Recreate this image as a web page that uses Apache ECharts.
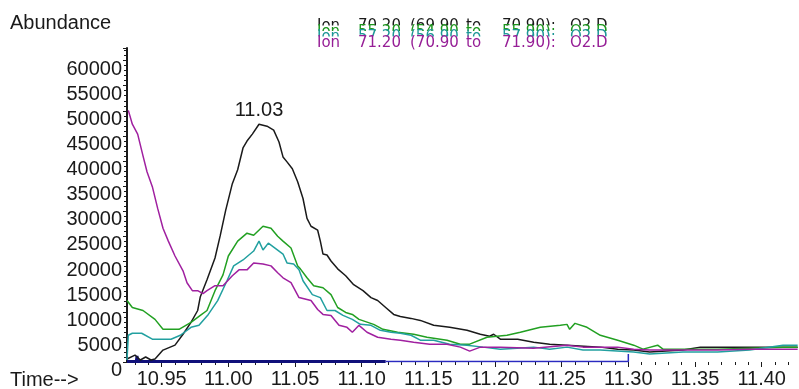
<!DOCTYPE html>
<html>
<head>
<meta charset="utf-8">
<script src="https://cdn.jsdelivr.net/npm/echarts@6/dist/echarts.min.js"></script>
<style>
  html, body { margin: 0; padding: 0; background: #fff; }
  #chart { width: 799px; height: 389px; }
</style>
</head>
<body>
<div id="chart"></div>
<script>
// retention time (min) / abundance pairs
var ion70 = [
  [10.924, 600], [10.930, 1380], [10.934, 400], [10.938, 990], [10.942, 400], [10.945, 600],
  [10.951, 2370], [10.960, 3350], [10.966, 5520], [10.972, 7890], [10.977, 10250], [10.979, 13000],
  [10.984, 16370], [10.990, 20700], [10.994, 25240], [10.998, 30170], [11.003, 35500], [11.007, 38260],
  [11.011, 42600], [11.014, 43980], [11.018, 45360], [11.023, 47330], [11.029, 46930], [11.034, 46150],
  [11.038, 43780], [11.041, 40820], [11.044, 39830], [11.048, 38450], [11.052, 35890], [11.056, 32540],
  [11.059, 28590], [11.062, 27020], [11.067, 26230], [11.069, 24060], [11.071, 21490], [11.074, 21300],
  [11.077, 20110], [11.082, 18540], [11.088, 17160], [11.094, 15380], [11.101, 14200], [11.107, 12820],
  [11.112, 12230], [11.118, 10850], [11.124, 9470], [11.129, 9070], [11.137, 8680], [11.144, 8280],
  [11.154, 7300], [11.166, 6900], [11.179, 6310], [11.189, 5520], [11.196, 5130], [11.199, 5520],
  [11.204, 4540], [11.217, 4540], [11.229, 3940], [11.241, 3550], [11.254, 3350], [11.279, 2960],
  [11.292, 2560], [11.304, 2370], [11.316, 1970], [11.341, 2370], [11.354, 2960], [11.379, 2960],
  [11.404, 2960], [11.427, 2960]
];
var ion55 = [
  [10.924, 12230], [10.928, 10850], [10.936, 10250], [10.945, 8480], [10.951, 6510], [10.963, 6510],
  [10.972, 7890], [10.979, 9270], [10.984, 10250], [10.990, 14200], [10.996, 17350], [11.000, 21100],
  [11.007, 24060], [11.014, 25640], [11.019, 25240], [11.026, 27020], [11.032, 26620], [11.037, 25040],
  [11.041, 24060], [11.047, 22680], [11.052, 19130], [11.054, 18540], [11.059, 16760], [11.064, 15180],
  [11.071, 14790], [11.077, 13410], [11.082, 10850], [11.088, 9860], [11.093, 9470], [11.098, 8480],
  [11.109, 7490], [11.116, 6510], [11.127, 5920], [11.139, 5520], [11.149, 4930], [11.164, 4340],
  [11.174, 3550], [11.181, 3550], [11.194, 4930], [11.209, 5320], [11.219, 5920], [11.234, 6900],
  [11.249, 7300], [11.254, 7490], [11.256, 6510], [11.260, 7690], [11.269, 6900], [11.279, 5320],
  [11.292, 4340], [11.304, 3350], [11.311, 2560], [11.322, 3350], [11.326, 2560], [11.341, 2560],
  [11.367, 2560], [11.391, 2760], [11.416, 2960], [11.427, 2960]
];
var ion57 = [
  [10.924, 400], [10.925, 5320], [10.928, 5720], [10.935, 5720], [10.943, 4540], [10.957, 4540],
  [10.964, 5320], [10.972, 6900], [10.978, 7300], [10.985, 9470], [10.992, 12230], [10.999, 16170],
  [11.004, 19130], [11.011, 20310], [11.019, 22090], [11.023, 24060], [11.026, 22280], [11.030, 23660],
  [11.035, 22680], [11.041, 21490], [11.044, 19720], [11.049, 19520], [11.053, 18340], [11.056, 16170],
  [11.063, 13410], [11.069, 12820], [11.074, 10250], [11.080, 10250], [11.086, 9270], [11.093, 8480],
  [11.099, 7490], [11.107, 7300], [11.114, 6310], [11.122, 5920], [11.129, 5720], [11.137, 5320],
  [11.144, 4340], [11.154, 4340], [11.166, 3550], [11.179, 3350], [11.191, 2960], [11.204, 2560],
  [11.229, 2960], [11.241, 2560], [11.254, 2960], [11.266, 2370], [11.279, 2370], [11.304, 1970],
  [11.316, 1580], [11.341, 1970], [11.367, 1970], [11.391, 2370], [11.416, 3350], [11.427, 3350]
];
var ion71 = [
  [10.925, 50090], [10.928, 47330], [10.932, 45360], [10.936, 41020], [10.939, 37860], [10.943, 34900],
  [10.947, 30570], [10.951, 26620], [10.955, 24060], [10.960, 21100], [10.966, 18140], [10.969, 15780],
  [10.973, 14200], [10.977, 14200], [10.981, 13610], [10.984, 14200], [10.990, 15180], [10.996, 15180],
  [11.003, 17160], [11.008, 18340], [11.014, 18340], [11.019, 19720], [11.026, 19520], [11.032, 19130],
  [11.037, 17750], [11.041, 16760], [11.047, 15780], [11.053, 12820], [11.062, 12230], [11.067, 10450],
  [11.071, 9470], [11.077, 9270], [11.083, 7300], [11.089, 6900], [11.093, 5920], [11.098, 7300],
  [11.104, 5920], [11.112, 4930], [11.122, 4540], [11.129, 4340], [11.139, 3940], [11.151, 3550],
  [11.164, 3550], [11.174, 2960], [11.181, 2170], [11.189, 2960], [11.204, 2960], [11.229, 2760],
  [11.254, 3350], [11.266, 2960], [11.292, 2960], [11.304, 2560], [11.316, 2370], [11.341, 2370],
  [11.367, 2370], [11.391, 2560], [11.427, 2560]
];
// integration baseline
var baseThick = [[10.924, 100], [10.931, 100], [10.9315, 1200], [10.932, 100], [11.118, 100]];
var baseThin = [[11.118, 100], [11.300, 100], [11.300, 1600]];

var peakTime = '11.03';
var peakPoint = [11.023, 47330];
var xTicks = [10.95, 11.00, 11.05, 11.10, 11.15, 11.20, 11.25, 11.30, 11.35, 11.40];
var xMinor = [10.93, 10.94, 10.96, 10.97, 10.98, 10.99, 11.01, 11.02, 11.03, 11.04, 11.06, 11.07,
  11.08, 11.09, 11.11, 11.12, 11.13, 11.14, 11.16, 11.17, 11.18, 11.19, 11.21, 11.22, 11.23, 11.24,
  11.26, 11.27, 11.28, 11.29, 11.31, 11.32, 11.33, 11.34, 11.36, 11.37, 11.38, 11.39, 11.41, 11.42];

var legendLines = [
  ['Ion', '70.20', '(69.90', 'to', '70.90):', 'O2.D'],
  ['Ion', '55.20', '(54.90', 'to', '55.90):', 'O2.D'],
  ['Ion', '57.20', '(56.90', 'to', '57.90):', 'O2.D'],
  ['Ion', '71.20', '(70.90', 'to', '71.90):', 'O2.D']
];
var colors = ['#1a1a1a', '#22a022', '#22a0a0', '#a020a0'];
var legendColors = ['#1a1a1a', '#1c961c', '#1c9696', '#961e96'];

var font = 'Liberation Sans, Arial, sans-serif';

// stacked, overlapping legend lines as the instrument software prints them
var tokenX = [317, 358, 410, 466, 502, 570];
var graphics = [
  { type: 'text', left: 10, top: 13, style: { text: 'Abundance', font: '20px ' + font, fill: '#1a1a1a' } },
  { type: 'text', left: 10, top: 370, style: { text: 'Time-->', font: '20px ' + font, fill: '#1a1a1a' } }
];
for (var i = 0; i < legendLines.length; i++) {
  var capTop = 21 + i * 5.5;
  graphics.push({
    type: 'rect', z: 100 + i * 2,
    shape: { x: 305, y: capTop - 1, width: 320, height: 16 },
    style: { fill: '#fff' }
  });
  for (var j = 0; j < legendLines[i].length; j++) {
    graphics.push({
      type: 'text', z: 101 + i * 2,
      style: {
        text: legendLines[i][j], x: tokenX[j], y: capTop + 5.5,
        font: '15px DejaVu Sans, sans-serif', fill: legendColors[i], verticalAlign: 'middle'
      }
    });
  }
}

function line(name, data, color, width) {
  return {
    name: name, type: 'line', data: data, symbol: 'none', silent: true,
    lineStyle: { color: color, width: width }
  };
}

var black = line('Ion 70.20', ion70, colors[0], 1.5);
black.markPoint = {
  symbol: 'circle', symbolSize: 1, silent: true,
  itemStyle: { color: 'rgba(0,0,0,0)' },
  label: { show: true, position: 'top', distance: 3, formatter: peakTime,
    color: '#1a1a1a', fontSize: 20, fontFamily: font },
  data: [{ coord: peakPoint }]
};

var chart = echarts.init(document.getElementById('chart'));
chart.setOption({
  animation: false,
  backgroundColor: '#fff',
  grid: { left: 127, right: 0, top: 48, bottom: 24 },
  xAxis: [{
    type: 'value', position: 'bottom', min: 10.924, max: 11.428,
    axisLine: { show: false },
    splitLine: { show: false },
    axisTick: { show: true, length: 5, customValues: xTicks, lineStyle: { color: '#1a1a1a', width: 1 } },
    axisLabel: {
      customValues: xTicks, margin: 7, color: '#1a1a1a', fontSize: 20, fontFamily: font,
      formatter: function(v) { return v.toFixed(2) }
    }
  }, {
    type: 'value', position: 'bottom', min: 10.924, max: 11.428,
    axisLine: { show: false },
    splitLine: { show: false },
    axisTick: { show: true, length: 3, customValues: xMinor, lineStyle: { color: '#1a1a1a', width: 1 } },
    axisLabel: { show: false }
  }],
  yAxis: {
    type: 'value', min: 0, max: 62500, interval: 5000,
    axisLine: { show: true, lineStyle: { color: '#1a1a1a', width: 2 } },
    splitLine: { show: false },
    axisTick: { show: true, length: 4, lineStyle: { color: '#1a1a1a' } },
    minorTick: { show: true, splitNumber: 5, length: 3, lineStyle: { color: '#1a1a1a' } },
    axisLabel: {
      showMaxLabel: false, margin: 5, color: '#1a1a1a', fontSize: 20, fontFamily: font,
      verticalAlign: 'top', lineHeight: 17,
      formatter: function(v) { return String(v) }
    }
  },
  graphic: graphics,
  series: [
    line('base', baseThick, '#10107a', 3),
    line('base2', baseThin, '#2a2ac0', 1.5),
    black,
    line('Ion 55.20', ion55, colors[1], 1.5),
    line('Ion 57.20', ion57, colors[2], 1.5),
    line('Ion 71.20', ion71, colors[3], 1.5)
  ]
});
</script>
</body>
</html>
